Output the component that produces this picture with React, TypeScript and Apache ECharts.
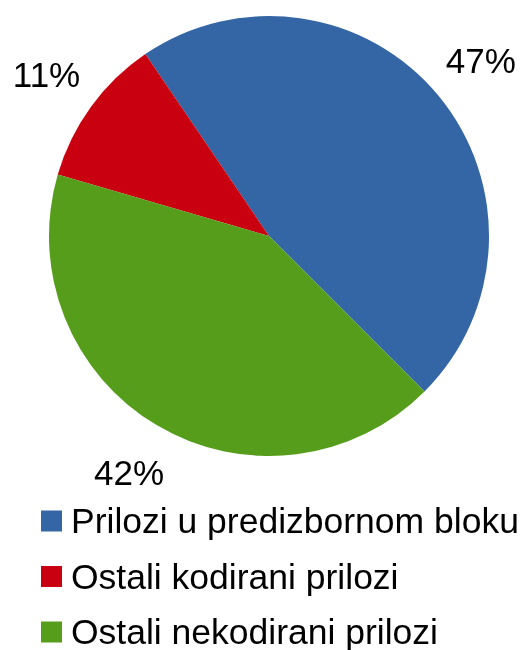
import React, { useEffect, useRef } from "react";
import * as echarts from "echarts";

const categories = [
  "Prilozi u predizbornom bloku",
  "Ostali kodirani prilozi",
  "Ostali nekodirani prilozi",
];
const values = [47, 11, 42];
const colors = ["#3465a4", "#c8000f", "#579d1c"];

export default function App() {
  const ref = useRef<HTMLDivElement>(null);
  useEffect(() => {
    if (!ref.current) return;
    const chart = echarts.init(ref.current, null, { renderer: "svg" });
    const data = categories.map((name, i) => ({
      name,
      value: values[i],
      itemStyle: { color: colors[i] },
    }));
    const font = "'Liberation Sans', Arial, sans-serif";
    chart.setOption({
      animation: false,
      legend: {
        data: categories,
        orient: "vertical",
        left: 41,
        top: 503,
        height: 300,
        itemWidth: 21,
        itemHeight: 21,
        itemGap: 19.5,
        icon: "rect",
        padding: 0,
        textStyle: {
          fontFamily: font,
          fontSize: 35.5,
          lineHeight: 34,
          color: "#000",
          padding: [0, 0, 0, 4],
        },
        selectedMode: false,
      },
      series: [
        {
          type: "pie",
          center: [269, 236],
          radius: [0, 220],
          startAngle: -45,
          clockwise: false,
          silent: true,
          label: { show: false },
          labelLine: { show: false },
          data,
        },
        {
          type: "pie",
          center: [269, 236],
          radius: [248, 296],
          startAngle: -45,
          clockwise: false,
          silent: true,
          itemStyle: { color: "rgba(0,0,0,0)" },
          label: {
            show: true,
            position: "inside",
            formatter: "{d}%",
            fontFamily: font,
            fontSize: 35,
            color: "#000",
          },
          labelLine: { show: false },
          data: categories.map((name, i) => ({
            name,
            value: values[i],
            itemStyle: { color: "rgba(0,0,0,0)" },
          })),
        },
      ],
    });
    return () => chart.dispose();
  }, []);
  return (
    <div
      ref={ref}
      style={{ position: "fixed", left: 0, top: 0, width: 526, height: 650 }}
    />
  );
}
